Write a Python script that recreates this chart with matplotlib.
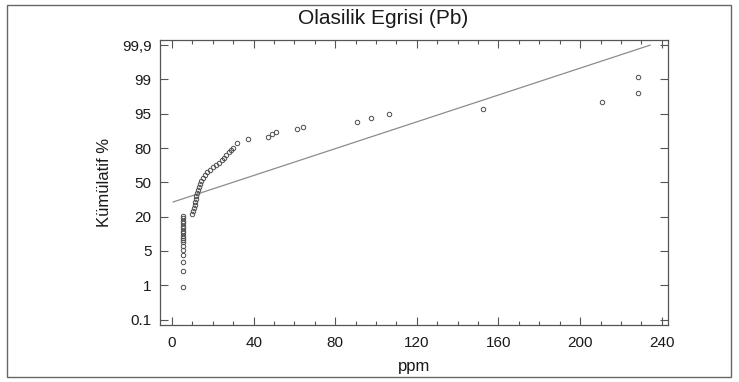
import numpy as np
import matplotlib
matplotlib.use("Agg")
import matplotlib.pyplot as plt
from matplotlib.patches import Rectangle
from matplotlib.ticker import FixedLocator, MultipleLocator, NullLocator

plt.rcParams['font.family'] = ['Liberation Sans', 'DejaVu Sans']

# probability axis: labels sit at evenly spaced positions
tick_pct = [0.1, 1, 5, 20, 50, 80, 95, 99, 99.9]
tick_labels = ["0.1", "1", "5", "20", "50", "80", "95", "99", "99,9"]

# Pb values (ppm) and their cumulative percent
pb_ppm = [5.4, 5.4, 5.4, 5.4, 5.4, 5.4, 5.4, 5.4, 5.4, 5.4, 5.4, 5.4, 5.4, 5.4, 5.4, 5.4, 5.4, 5.4,
          9.8, 10.3, 10.8, 11.3, 11.3, 11.8, 11.8, 12.3, 12.7, 13.2, 13.7, 14.2, 15.2, 16.2, 17.2,
          18.6, 20.1, 21.6, 23.0, 24.5, 25.5, 26.5, 27.9, 28.9, 29.9, 31.9, 37.3, 47.1, 49.0, 51.0,
          61.3, 64.2, 90.7, 97.5, 106.4, 152.5, 210.8, 228.4, 228.4]
cum_pct = [0.95, 2.7, 3.7, 4.5, 5.4, 7.1, 8.9, 9.8, 10.6, 11.7, 12.8, 13.9, 15.0, 16.1, 17.2, 18.3, 19.4, 20.9,
           22.3, 24.9, 27.5, 30.1, 32.8, 35.4, 38.0, 40.6, 43.3, 45.9, 48.5, 51.1, 53.8, 56.4, 59.0,
           61.2, 63.4, 65.1, 67.3, 69.5, 71.7, 73.9, 76.1, 78.3, 80.0, 82.2, 83.9, 84.8, 86.3, 87.2,
           88.3, 89.4, 91.4, 93.1, 94.9, 95.5, 96.4, 97.4, 99.06]

# fitted reference line
fit_ppm = [0.5, 234.3]
fit_pct = [32.8, 99.9]

T = np.array(tick_pct, float)
K = np.arange(len(T), dtype=float)


def fwd(v):
    v = np.asarray(v, float)
    out = np.interp(v, T, K)
    out = np.where(v < T[0], (v - T[0]) / (T[1] - T[0]), out)
    out = np.where(v > T[-1], K[-1] + (v - T[-1]) / (T[-1] - T[-2]), out)
    return out


def inv(p):
    p = np.asarray(p, float)
    out = np.interp(p, K, T)
    out = np.where(p < 0, T[0] + p * (T[1] - T[0]), out)
    out = np.where(p > K[-1], T[-1] + (p - K[-1]) * (T[-1] - T[-2]), out)
    return out


fig = plt.figure(figsize=(7.39, 3.82), dpi=100)
ax = fig.add_axes([0.2165, 0.1492, 0.6875, 0.7461])

# outer frame around the whole picture
fig.patches.append(Rectangle((7 / 739, 5 / 382), 724 / 739, 372 / 382, transform=fig.transFigure,
                             fill=False, edgecolor='#666666', linewidth=1.0))

ax.plot(fit_ppm, fit_pct, color='#8c8c8c', linewidth=0.9)
ax.plot(pb_ppm, cum_pct, linestyle='none', marker='o', markersize=3.2,
        markerfacecolor='none', markeredgecolor='#4d4d4d', markeredgewidth=0.7)

ax.set_yscale('function', functions=(fwd, inv))
ax.set_xlim(-5.9, 243.1)
ax.set_ylim(float(inv(-0.16)), float(inv(8.15)))

ax.yaxis.set_major_locator(FixedLocator(tick_pct))
ax.set_yticklabels(tick_labels)
ax.yaxis.set_minor_locator(NullLocator())
ax.xaxis.set_major_locator(MultipleLocator(40))
ax.xaxis.set_minor_locator(MultipleLocator(10))

ax.tick_params(which='both', direction='in', top=True, right=True, colors='#555555',
               labelcolor='#1a1a1a', labelsize=11)
ax.tick_params(which='major', length=6, width=0.8)
ax.tick_params(which='minor', length=3, width=0.8)
ax.tick_params(axis='y', pad=6)
ax.tick_params(axis='x', pad=8)

for s in ax.spines.values():
    s.set_color('#555555')
    s.set_linewidth(0.9)

fig.text(383 / 739, 1 - 19 / 382, "Olasilik Egrisi (Pb)", fontsize=15, color='#1a1a1a',
         ha='center', va='center')
ax.set_xlabel("ppm", fontsize=12, color='#1a1a1a')
ax.set_ylabel("Kümülatif %", fontsize=12, color='#1a1a1a')
ax.xaxis.set_label_coords(0.5, -0.12)
ax.yaxis.set_label_coords(-0.095, 0.5)

fig.savefig("out.png", dpi=100)
